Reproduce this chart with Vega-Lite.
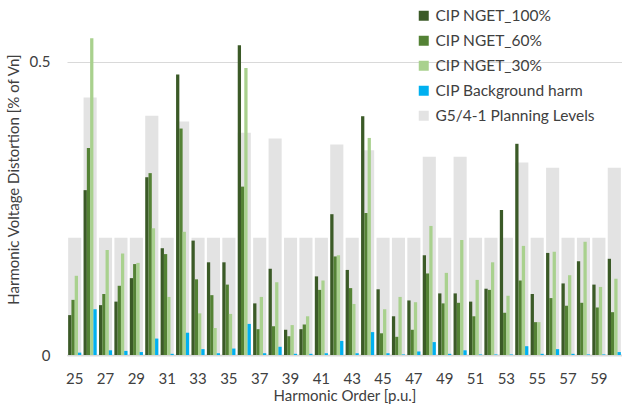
{
  "$schema": "https://vega.github.io/schema/vega-lite/v6.json",
  "width": 555,
  "height": 352,
  "autosize": {"type": "none"},
  "padding": {"left": 67, "top": 3, "right": 0, "bottom": 57},
  "config": {
    "font": "Lato",
    "view": {"stroke": null},
    "axis": {"labelFont": "Lato", "titleFont": "Lato", "labelColor": "#404040", "titleColor": "#404040", "titleFontWeight": "normal"}
  },
  "data": {
    "values": [
      {"h":25,"s":"CIP NGET_100%","v":0.068},{"h":25,"s":"CIP NGET_60%","v":0.094},{"h":25,"s":"CIP NGET_30%","v":0.135},{"h":25,"s":"CIP Background harm","v":0.004},{"h":25,"s":"G5/4-1 Planning Levels","v":0.2},
      {"h":26,"s":"CIP NGET_100%","v":0.281},{"h":26,"s":"CIP NGET_60%","v":0.353},{"h":26,"s":"CIP NGET_30%","v":0.540},{"h":26,"s":"CIP Background harm","v":0.078},{"h":26,"s":"G5/4-1 Planning Levels","v":0.439},
      {"h":27,"s":"CIP NGET_100%","v":0.085},{"h":27,"s":"CIP NGET_60%","v":0.104},{"h":27,"s":"CIP NGET_30%","v":0.179},{"h":27,"s":"CIP Background harm","v":0.008},{"h":27,"s":"G5/4-1 Planning Levels","v":0.2},
      {"h":28,"s":"CIP NGET_100%","v":0.091},{"h":28,"s":"CIP NGET_60%","v":0.118},{"h":28,"s":"CIP NGET_30%","v":0.173},{"h":28,"s":"CIP Background harm","v":0.007},{"h":28,"s":"G5/4-1 Planning Levels","v":0.2},
      {"h":29,"s":"CIP NGET_100%","v":0.131},{"h":29,"s":"CIP NGET_60%","v":0.155},{"h":29,"s":"CIP NGET_30%","v":0.157},{"h":29,"s":"CIP Background harm","v":0.005},{"h":29,"s":"G5/4-1 Planning Levels","v":0.2},
      {"h":30,"s":"CIP NGET_100%","v":0.303},{"h":30,"s":"CIP NGET_60%","v":0.310},{"h":30,"s":"CIP NGET_30%","v":0.216},{"h":30,"s":"CIP Background harm","v":0.028},{"h":30,"s":"G5/4-1 Planning Levels","v":0.408},
      {"h":31,"s":"CIP NGET_100%","v":0.182},{"h":31,"s":"CIP NGET_60%","v":0.172},{"h":31,"s":"CIP NGET_30%","v":0.099},{"h":31,"s":"CIP Background harm","v":0.002},{"h":31,"s":"G5/4-1 Planning Levels","v":0.2},
      {"h":32,"s":"CIP NGET_100%","v":0.478},{"h":32,"s":"CIP NGET_60%","v":0.386},{"h":32,"s":"CIP NGET_30%","v":0.210},{"h":32,"s":"CIP Background harm","v":0.038},{"h":32,"s":"G5/4-1 Planning Levels","v":0.398},
      {"h":33,"s":"CIP NGET_100%","v":0.195},{"h":33,"s":"CIP NGET_60%","v":0.129},{"h":33,"s":"CIP NGET_30%","v":0.071},{"h":33,"s":"CIP Background harm","v":0.010},{"h":33,"s":"G5/4-1 Planning Levels","v":0.2},
      {"h":34,"s":"CIP NGET_100%","v":0.158},{"h":34,"s":"CIP NGET_60%","v":0.102},{"h":34,"s":"CIP NGET_30%","v":0.046},{"h":34,"s":"CIP Background harm","v":0.003},{"h":34,"s":"G5/4-1 Planning Levels","v":0.2},
      {"h":35,"s":"CIP NGET_100%","v":0.158},{"h":35,"s":"CIP NGET_60%","v":0.120},{"h":35,"s":"CIP NGET_30%","v":0.070},{"h":35,"s":"CIP Background harm","v":0.011},{"h":35,"s":"G5/4-1 Planning Levels","v":0.2},
      {"h":36,"s":"CIP NGET_100%","v":0.528},{"h":36,"s":"CIP NGET_60%","v":0.287},{"h":36,"s":"CIP NGET_30%","v":0.489},{"h":36,"s":"CIP Background harm","v":0.053},{"h":36,"s":"G5/4-1 Planning Levels","v":0.379},
      {"h":37,"s":"CIP NGET_100%","v":0.088},{"h":37,"s":"CIP NGET_60%","v":0.044},{"h":37,"s":"CIP NGET_30%","v":0.099},{"h":37,"s":"CIP Background harm","v":0.003},{"h":37,"s":"G5/4-1 Planning Levels","v":0.2},
      {"h":38,"s":"CIP NGET_100%","v":0.147},{"h":38,"s":"CIP NGET_60%","v":0.049},{"h":38,"s":"CIP NGET_30%","v":0.124},{"h":38,"s":"CIP Background harm","v":0.014},{"h":38,"s":"G5/4-1 Planning Levels","v":0.369},
      {"h":39,"s":"CIP NGET_100%","v":0.043},{"h":39,"s":"CIP NGET_60%","v":0.032},{"h":39,"s":"CIP NGET_30%","v":0.051},{"h":39,"s":"CIP Background harm","v":0.002},{"h":39,"s":"G5/4-1 Planning Levels","v":0.2},
      {"h":40,"s":"CIP NGET_100%","v":0.044},{"h":40,"s":"CIP NGET_60%","v":0.052},{"h":40,"s":"CIP NGET_30%","v":0.066},{"h":40,"s":"CIP Background harm","v":0.002},{"h":40,"s":"G5/4-1 Planning Levels","v":0.2},
      {"h":41,"s":"CIP NGET_100%","v":0.134},{"h":41,"s":"CIP NGET_60%","v":0.111},{"h":41,"s":"CIP NGET_30%","v":0.127},{"h":41,"s":"CIP Background harm","v":0.003},{"h":41,"s":"G5/4-1 Planning Levels","v":0.2},
      {"h":42,"s":"CIP NGET_100%","v":0.240},{"h":42,"s":"CIP NGET_60%","v":0.168},{"h":42,"s":"CIP NGET_30%","v":0.170},{"h":42,"s":"CIP Background harm","v":0.024},{"h":42,"s":"G5/4-1 Planning Levels","v":0.359},
      {"h":43,"s":"CIP NGET_100%","v":0.145},{"h":43,"s":"CIP NGET_60%","v":0.114},{"h":43,"s":"CIP NGET_30%","v":0.087},{"h":43,"s":"CIP Background harm","v":0.003},{"h":43,"s":"G5/4-1 Planning Levels","v":0.2},
      {"h":44,"s":"CIP NGET_100%","v":0.407},{"h":44,"s":"CIP NGET_60%","v":0.242},{"h":44,"s":"CIP NGET_30%","v":0.370},{"h":44,"s":"CIP Background harm","v":0.039},{"h":44,"s":"G5/4-1 Planning Levels","v":0.349},
      {"h":45,"s":"CIP NGET_100%","v":0.112},{"h":45,"s":"CIP NGET_60%","v":0.037},{"h":45,"s":"CIP NGET_30%","v":0.078},{"h":45,"s":"CIP Background harm","v":0.003},{"h":45,"s":"G5/4-1 Planning Levels","v":0.2},
      {"h":46,"s":"CIP NGET_100%","v":0.066},{"h":46,"s":"CIP NGET_60%","v":0.031},{"h":46,"s":"CIP NGET_30%","v":0.099},{"h":46,"s":"CIP Background harm","v":0.001},{"h":46,"s":"G5/4-1 Planning Levels","v":0.2},
      {"h":47,"s":"CIP NGET_100%","v":0.093},{"h":47,"s":"CIP NGET_60%","v":0.043},{"h":47,"s":"CIP NGET_30%","v":0.090},{"h":47,"s":"CIP Background harm","v":0.006},{"h":47,"s":"G5/4-1 Planning Levels","v":0.2},
      {"h":48,"s":"CIP NGET_100%","v":0.170},{"h":48,"s":"CIP NGET_60%","v":0.139},{"h":48,"s":"CIP NGET_30%","v":0.220},{"h":48,"s":"CIP Background harm","v":0.022},{"h":48,"s":"G5/4-1 Planning Levels","v":0.338},
      {"h":49,"s":"CIP NGET_100%","v":0.105},{"h":49,"s":"CIP NGET_60%","v":0.088},{"h":49,"s":"CIP NGET_30%","v":0.140},{"h":49,"s":"CIP Background harm","v":0.002},{"h":49,"s":"G5/4-1 Planning Levels","v":0.2},
      {"h":50,"s":"CIP NGET_100%","v":0.105},{"h":50,"s":"CIP NGET_60%","v":0.089},{"h":50,"s":"CIP NGET_30%","v":0.196},{"h":50,"s":"CIP Background harm","v":0.008},{"h":50,"s":"G5/4-1 Planning Levels","v":0.338},
      {"h":51,"s":"CIP NGET_100%","v":0.091},{"h":51,"s":"CIP NGET_60%","v":0.066},{"h":51,"s":"CIP NGET_30%","v":0.128},{"h":51,"s":"CIP Background harm","v":0.001},{"h":51,"s":"G5/4-1 Planning Levels","v":0.2},
      {"h":52,"s":"CIP NGET_100%","v":0.113},{"h":52,"s":"CIP NGET_60%","v":0.111},{"h":52,"s":"CIP NGET_30%","v":0.158},{"h":52,"s":"CIP Background harm","v":0.001},{"h":52,"s":"G5/4-1 Planning Levels","v":0.2},
      {"h":53,"s":"CIP NGET_100%","v":0.247},{"h":53,"s":"CIP NGET_60%","v":0.072},{"h":53,"s":"CIP NGET_30%","v":0.101},{"h":53,"s":"CIP Background harm","v":0.001},{"h":53,"s":"G5/4-1 Planning Levels","v":0.2},
      {"h":54,"s":"CIP NGET_100%","v":0.360},{"h":54,"s":"CIP NGET_60%","v":0.127},{"h":54,"s":"CIP NGET_30%","v":0.186},{"h":54,"s":"CIP Background harm","v":0.015},{"h":54,"s":"G5/4-1 Planning Levels","v":0.328},
      {"h":55,"s":"CIP NGET_100%","v":0.104},{"h":55,"s":"CIP NGET_60%","v":0.056},{"h":55,"s":"CIP NGET_30%","v":0.056},{"h":55,"s":"CIP Background harm","v":0.002},{"h":55,"s":"G5/4-1 Planning Levels","v":0.2},
      {"h":56,"s":"CIP NGET_100%","v":0.174},{"h":56,"s":"CIP NGET_60%","v":0.097},{"h":56,"s":"CIP NGET_30%","v":0.176},{"h":56,"s":"CIP Background harm","v":0.010},{"h":56,"s":"G5/4-1 Planning Levels","v":0.319},
      {"h":57,"s":"CIP NGET_100%","v":0.122},{"h":57,"s":"CIP NGET_60%","v":0.084},{"h":57,"s":"CIP NGET_30%","v":0.136},{"h":57,"s":"CIP Background harm","v":0.002},{"h":57,"s":"G5/4-1 Planning Levels","v":0.2},
      {"h":58,"s":"CIP NGET_100%","v":0.160},{"h":58,"s":"CIP NGET_60%","v":0.089},{"h":58,"s":"CIP NGET_30%","v":0.193},{"h":58,"s":"CIP Background harm","v":0.001},{"h":58,"s":"G5/4-1 Planning Levels","v":0.2},
      {"h":59,"s":"CIP NGET_100%","v":0.120},{"h":59,"s":"CIP NGET_60%","v":0.081},{"h":59,"s":"CIP NGET_30%","v":0.116},{"h":59,"s":"CIP Background harm","v":0.001},{"h":59,"s":"G5/4-1 Planning Levels","v":0.2},
      {"h":60,"s":"CIP NGET_100%","v":0.164},{"h":60,"s":"CIP NGET_60%","v":0.073},{"h":60,"s":"CIP NGET_30%","v":0.130},{"h":60,"s":"CIP Background harm","v":0.005},{"h":60,"s":"G5/4-1 Planning Levels","v":0.319}
    ]
  },
  "encoding": {
    "x": {
      "field": "h", "type": "ordinal",
      "scale": {"paddingInner": 0.15, "paddingOuter": 0.075},
      "axis": {
        "title": "Harmonic Order [p.u.]",
        "values": [25,27,29,31,33,35,37,39,41,43,45,47,49,51,53,55,57,59],
        "labelAngle": 0, "ticks": false, "labelFontSize": 15, "labelPadding": 16,
        "titleFontSize": 15, "titlePadding": 2,
        "domainColor": "#D9D9D9", "domainWidth": 2
      }
    },
    "y": {
      "field": "v", "type": "quantitative",
      "scale": {"domain": [0, 0.6], "nice": false},
      "axis": {
        "title": "Harmonic Voltage Distortion [% of Vn]",
        "values": [0, 0.5], "format": ".1~f", "ticks": false, "domain": false,
        "labelFontSize": 15, "labelPadding": 17,
        "titleFontSize": 15, "titlePadding": 8,
        "gridColor": "#D9D9D9", "gridWidth": 1
      }
    },
    "color": {
      "field": "s", "type": "nominal",
      "scale": {
        "domain": ["CIP NGET_100%","CIP NGET_60%","CIP NGET_30%","CIP Background harm","G5/4-1 Planning Levels"],
        "range": ["#3B5A27","#548235","#A9D18E","#00B0F0","#E3E3E3"]
      },
      "legend": {
        "title": null, "orient": "none", "legendX": 349, "legendY": 5,
        "symbolType": "square", "symbolSize": 100, "symbolStrokeWidth": 0,
        "labelFontSize": 15.5, "labelColor": "#404040", "labelOffset": 4, "rowPadding": 8,
        "labelLimit": 300
      }
    }
  },
  "layer": [
    {
      "transform": [{"filter": "datum.s === 'G5/4-1 Planning Levels'"}],
      "mark": {"type": "bar"}
    },
    {
      "transform": [{"filter": "datum.s !== 'G5/4-1 Planning Levels'"}],
      "mark": {"type": "bar"},
      "encoding": {
        "xOffset": {
          "field": "s", "type": "nominal",
          "scale": {"domain": ["CIP NGET_100%","CIP NGET_60%","CIP NGET_30%","CIP Background harm"], "paddingInner": 0, "paddingOuter": 0}
        }
      }
    }
  ]
}
